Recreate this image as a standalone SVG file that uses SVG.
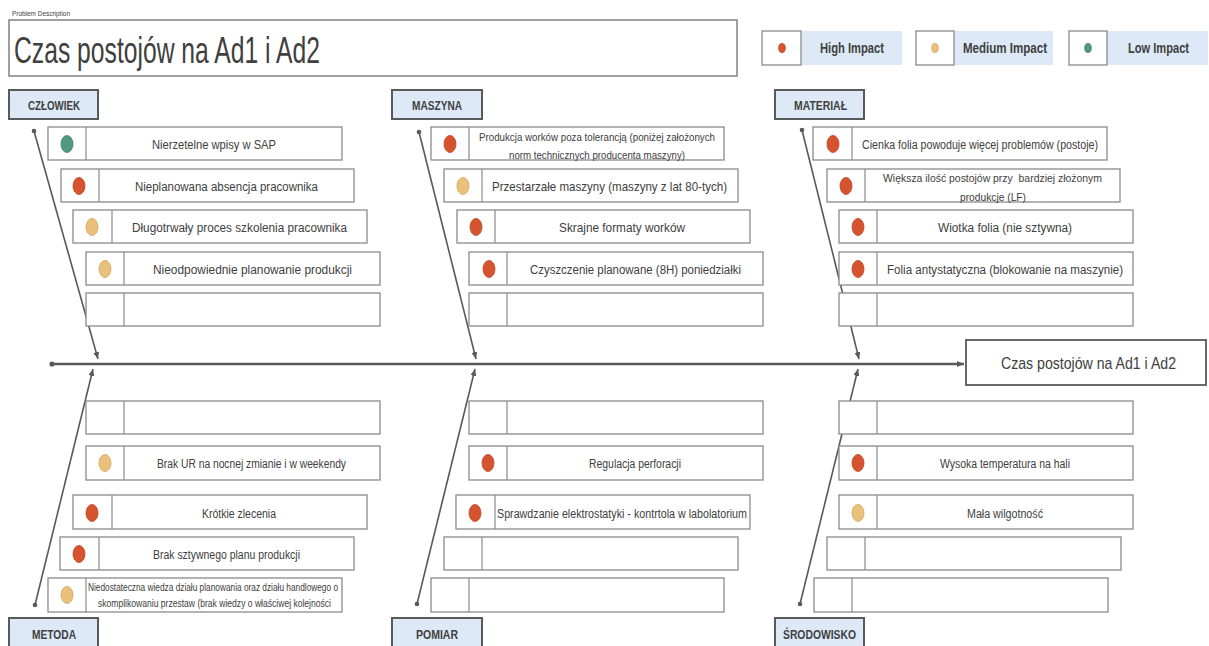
<svg xmlns="http://www.w3.org/2000/svg" width="1209" height="646" viewBox="0 0 1209 646">
<defs>
<style>
.bx{fill:#fff;stroke:#8a8a8a;stroke-width:1.3}
.dv{stroke:#8a8a8a;stroke-width:1.2}
.t{font-family:"Liberation Sans",Arial,sans-serif;font-size:12px;fill:#404040}
.ts{font-family:"Liberation Sans",Arial,sans-serif;font-size:10px;fill:#404040}
.cat{fill:#dde9f6;stroke:#5a5a5a;stroke-width:2}
.ct{font-family:"Liberation Sans",Arial,sans-serif;font-size:12.5px;font-weight:bold;fill:#404040}
.lg{font-family:"Liberation Sans",Arial,sans-serif;font-size:14px;font-weight:bold;fill:#404040}
.lb{fill:#dde9f6}
.hi{fill:#d6532f;stroke:#bd4523;stroke-width:0.8}
.md{fill:#e9c17b;stroke:#cfa45c;stroke-width:0.8}
.lo{fill:#4f9a80;stroke:#3e7e68;stroke-width:0.8}
.ln{stroke:#595959;stroke-width:1.6;fill:none}
.sp{stroke:#595959;stroke-width:2.6;fill:none}
.dot{fill:#595959}
</style>
<marker id="ah" markerUnits="userSpaceOnUse" markerWidth="8" markerHeight="6" refX="7" refY="3" orient="auto">
<path d="M0,0 L7,3 L0,6 z" fill="#595959"/>
</marker>
</defs>
<rect width="1209" height="646" fill="#fff"/>

<g id="header">
<text x="12" y="16" class="t" style="font-size:6.5px" textLength="58" lengthAdjust="spacingAndGlyphs">Problem Description</text>
<rect x="9" y="20" width="728" height="56" fill="#fff" stroke="#808080" stroke-width="1.5"/>
<text x="14" y="63" class="t" style="font-size:37px" textLength="306" lengthAdjust="spacingAndGlyphs">Czas postojów na Ad1 i Ad2</text>
</g>

<g id="legend">
<rect x="801" y="31" width="101" height="34" class="lb"/>
<rect x="762" y="31" width="39" height="34" class="bx"/>
<ellipse cx="782" cy="48" rx="3.3" ry="4.5" class="hi"/>
<text x="820" y="53" class="lg" textLength="64" lengthAdjust="spacingAndGlyphs">High Impact</text>
<rect x="954" y="31" width="99" height="34" class="lb"/>
<rect x="916" y="31" width="38" height="34" class="bx"/>
<ellipse cx="935" cy="48" rx="3.3" ry="4.5" class="md"/>
<text x="963" y="53" class="lg" textLength="84" lengthAdjust="spacingAndGlyphs">Medium Impact</text>
<rect x="1107" y="31" width="101" height="34" class="lb"/>
<rect x="1069" y="31" width="38" height="34" class="bx"/>
<ellipse cx="1088" cy="48" rx="3.3" ry="4.5" class="lo"/>
<text x="1128" y="53" class="lg" textLength="61" lengthAdjust="spacingAndGlyphs">Low Impact</text>
</g>

<g id="connectors">
<line x1="52" y1="364" x2="964" y2="364" class="sp" marker-end="url(#ah)"/>
<circle cx="52" cy="364" r="2.6" class="dot"/>
<line x1="34" y1="131" x2="98" y2="359" class="ln" marker-end="url(#ah)"/>
<circle cx="34" cy="131" r="2.3" class="dot"/>
<line x1="419" y1="132" x2="476" y2="359" class="ln" marker-end="url(#ah)"/>
<circle cx="419" cy="132" r="2.3" class="dot"/>
<line x1="802" y1="130" x2="859" y2="359" class="ln" marker-end="url(#ah)"/>
<circle cx="802" cy="130" r="2.3" class="dot"/>
<line x1="35" y1="605" x2="93" y2="369" class="ln" marker-end="url(#ah)"/>
<circle cx="35" cy="605" r="2.3" class="dot"/>
<line x1="417" y1="604" x2="475" y2="369" class="ln" marker-end="url(#ah)"/>
<circle cx="417" cy="604" r="2.3" class="dot"/>
<line x1="800" y1="604" x2="858" y2="369" class="ln" marker-end="url(#ah)"/>
<circle cx="800" cy="604" r="2.3" class="dot"/>
</g>

<g id="effect">
<rect x="966" y="340" width="240" height="45" fill="#fff" stroke="#595959" stroke-width="1.8"/>
<text x="1001" y="369" class="t" style="font-size:17px" textLength="175" lengthAdjust="spacingAndGlyphs">Czas postojów na Ad1 i Ad2</text>
</g>

<g id="cat-czlowiek"><rect x="9" y="90" width="89" height="29" class="cat"/><text x="28" y="109.5" class="ct" textLength="52" lengthAdjust="spacingAndGlyphs">CZŁOWIEK</text></g>
<g id="cat-maszyna"><rect x="392" y="90" width="90" height="29" class="cat"/><text x="412" y="109.5" class="ct" textLength="50" lengthAdjust="spacingAndGlyphs">MASZYNA</text></g>
<g id="cat-material"><rect x="775" y="90" width="89" height="29" class="cat"/><text x="794" y="109.5" class="ct" textLength="53" lengthAdjust="spacingAndGlyphs">MATERIAŁ</text></g>
<g id="cat-metoda"><rect x="9" y="618" width="89" height="32" class="cat"/><text x="32" y="638.5" class="ct" textLength="44" lengthAdjust="spacingAndGlyphs">METODA</text></g>
<g id="cat-pomiar"><rect x="392" y="618" width="90" height="32" class="cat"/><text x="416" y="638.5" class="ct" textLength="42" lengthAdjust="spacingAndGlyphs">POMIAR</text></g>
<g id="cat-srodowisko"><rect x="775" y="618" width="89" height="32" class="cat"/><text x="783" y="638.5" class="ct" textLength="73" lengthAdjust="spacingAndGlyphs">ŚRODOWISKO</text></g>

<!-- CZLOWIEK -->
<g id="c1"><rect x="48" y="127" width="294" height="33" class="bx"/><line x1="86" y1="127" x2="86" y2="160" class="dv"/><ellipse cx="67" cy="144" rx="6" ry="8.5" class="lo"/><text x="152" y="148.5" class="t" textLength="124" lengthAdjust="spacingAndGlyphs">Nierzetelne wpisy w SAP</text></g>
<g id="c2"><rect x="61" y="169" width="293" height="33" class="bx"/><line x1="99" y1="169" x2="99" y2="202" class="dv"/><ellipse cx="79" cy="186" rx="6" ry="8.5" class="hi"/><text x="135" y="190.5" class="t" textLength="183" lengthAdjust="spacingAndGlyphs">Nieplanowana absencja pracownika</text></g>
<g id="c3"><rect x="73" y="210" width="294" height="33" class="bx"/><line x1="112" y1="210" x2="112" y2="243" class="dv"/><ellipse cx="92" cy="227" rx="6" ry="8.5" class="md"/><text x="132" y="231.5" class="t" textLength="215" lengthAdjust="spacingAndGlyphs">Długotrwały proces szkolenia pracownika</text></g>
<g id="c4"><rect x="86" y="252" width="294" height="33" class="bx"/><line x1="124" y1="252" x2="124" y2="285" class="dv"/><ellipse cx="105" cy="269" rx="6" ry="8.5" class="md"/><text x="153" y="273.5" class="t" textLength="199" lengthAdjust="spacingAndGlyphs">Nieodpowiednie planowanie produkcji</text></g>
<g id="c5"><rect x="86" y="293" width="294" height="33" class="bx"/><line x1="124" y1="293" x2="124" y2="326" class="dv"/></g>

<!-- MASZYNA -->
<g id="m1"><rect x="431" y="127" width="293" height="33" class="bx"/><line x1="469" y1="127" x2="469" y2="160" class="dv"/><ellipse cx="450" cy="144" rx="6" ry="8.5" class="hi"/><text x="479" y="140.5" class="ts" textLength="236" lengthAdjust="spacingAndGlyphs">Produkcja worków poza tolerancją (poniżej założonych</text><text x="509" y="159" class="ts" textLength="176" lengthAdjust="spacingAndGlyphs">norm technicznych producenta maszyny)</text></g>
<g id="m2"><rect x="444" y="169" width="294" height="33" class="bx"/><line x1="482" y1="169" x2="482" y2="202" class="dv"/><ellipse cx="463" cy="186" rx="6" ry="8.5" class="md"/><text x="492" y="191" class="t" style="font-size:13px" textLength="235" lengthAdjust="spacingAndGlyphs">Przestarzałe maszyny (maszyny z lat 80-tych)</text></g>
<g id="m3"><rect x="457" y="210" width="293" height="33" class="bx"/><line x1="495" y1="210" x2="495" y2="243" class="dv"/><ellipse cx="476" cy="227" rx="6" ry="8.5" class="hi"/><text x="559" y="231.5" class="t" textLength="126" lengthAdjust="spacingAndGlyphs">Skrajne formaty worków</text></g>
<g id="m4"><rect x="469" y="252" width="294" height="33" class="bx"/><line x1="507" y1="252" x2="507" y2="285" class="dv"/><ellipse cx="489" cy="269" rx="6" ry="8.5" class="hi"/><text x="530" y="273.5" class="t" textLength="211" lengthAdjust="spacingAndGlyphs">Czyszczenie planowane (8H) poniedziałki</text></g>
<g id="m5"><rect x="469" y="293" width="294" height="33" class="bx"/><line x1="507" y1="293" x2="507" y2="326" class="dv"/></g>

<!-- MATERIAL -->
<g id="t1"><rect x="813" y="127" width="294" height="33" class="bx"/><line x1="852" y1="127" x2="852" y2="160" class="dv"/><ellipse cx="833" cy="144" rx="6" ry="8.5" class="hi"/><text x="862" y="148.5" class="t" textLength="236" lengthAdjust="spacingAndGlyphs">Cienka folia powoduje więcej problemów (postoje)</text></g>
<g id="t2"><rect x="827" y="169" width="293" height="33" class="bx"/><line x1="865" y1="169" x2="865" y2="202" class="dv"/><ellipse cx="846" cy="186" rx="6" ry="8.5" class="hi"/><text x="883" y="181.5" class="ts" xml:space="preserve" textLength="219" lengthAdjust="spacingAndGlyphs">Większa ilość postojów przy  bardziej złożonym</text><text x="960" y="200.5" class="ts" textLength="66" lengthAdjust="spacingAndGlyphs">produkcje (LF)</text></g>
<g id="t3"><rect x="839" y="210" width="294" height="33" class="bx"/><line x1="877" y1="210" x2="877" y2="243" class="dv"/><ellipse cx="858" cy="227" rx="6" ry="8.5" class="hi"/><text x="938" y="231.5" class="t" textLength="134" lengthAdjust="spacingAndGlyphs">Wiotka folia (nie sztywna)</text></g>
<g id="t4"><rect x="839" y="252" width="294" height="33" class="bx"/><line x1="877" y1="252" x2="877" y2="285" class="dv"/><ellipse cx="858" cy="269" rx="6" ry="8.5" class="hi"/><text x="887" y="273.5" class="t" textLength="236" lengthAdjust="spacingAndGlyphs">Folia antystatyczna (blokowanie na maszynie)</text></g>
<g id="t5"><rect x="839" y="293" width="294" height="33" class="bx"/><line x1="877" y1="293" x2="877" y2="326" class="dv"/></g>

<!-- METODA -->
<g id="e1"><rect x="86" y="401" width="294" height="33" class="bx"/><line x1="124" y1="401" x2="124" y2="434" class="dv"/></g>
<g id="e2"><rect x="86" y="446" width="294" height="34" class="bx"/><line x1="124" y1="446" x2="124" y2="480" class="dv"/><ellipse cx="105" cy="463" rx="6" ry="8.5" class="md"/><text x="157" y="467.5" class="t" textLength="189" lengthAdjust="spacingAndGlyphs">Brak UR na nocnej zmianie i w weekendy</text></g>
<g id="e3"><rect x="73" y="495" width="294" height="34" class="bx"/><line x1="112" y1="495" x2="112" y2="529" class="dv"/><ellipse cx="92" cy="513" rx="6" ry="8.5" class="hi"/><text x="202" y="517.5" class="t" textLength="74" lengthAdjust="spacingAndGlyphs">Krótkie zlecenia</text></g>
<g id="e4"><rect x="60" y="537" width="294" height="33" class="bx"/><line x1="99" y1="537" x2="99" y2="570" class="dv"/><ellipse cx="79" cy="554" rx="6" ry="8.5" class="hi"/><text x="153" y="558.5" class="t" textLength="147" lengthAdjust="spacingAndGlyphs">Brak sztywnego planu produkcji</text></g>
<g id="e5"><rect x="48" y="578" width="294" height="34" class="bx"/><line x1="86" y1="578" x2="86" y2="612" class="dv"/><ellipse cx="67" cy="595" rx="6" ry="8.5" class="md"/><text x="88" y="590.5" class="ts" textLength="250" lengthAdjust="spacingAndGlyphs">Niedostateczna wiedza działu planowania oraz działu handlowego o</text><text x="98" y="607" class="ts" textLength="233" lengthAdjust="spacingAndGlyphs">skomplikowaniu przestaw (brak wiedzy o właściwej kolejności</text></g>

<!-- POMIAR -->
<g id="p1"><rect x="469" y="401" width="294" height="33" class="bx"/><line x1="507" y1="401" x2="507" y2="434" class="dv"/></g>
<g id="p2"><rect x="469" y="446" width="294" height="34" class="bx"/><line x1="507" y1="446" x2="507" y2="480" class="dv"/><ellipse cx="488" cy="463" rx="6" ry="8.5" class="hi"/><text x="589" y="467.5" class="t" textLength="92" lengthAdjust="spacingAndGlyphs">Regulacja perforacji</text></g>
<g id="p3"><rect x="456" y="495" width="294" height="34" class="bx"/><line x1="495" y1="495" x2="495" y2="529" class="dv"/><ellipse cx="475" cy="513" rx="6" ry="8.5" class="hi"/><text x="497" y="517.5" class="t" textLength="250" lengthAdjust="spacingAndGlyphs">Sprawdzanie elektrostatyki - kontrtola w labolatorium</text></g>
<g id="p4"><rect x="444" y="537" width="294" height="33" class="bx"/><line x1="482" y1="537" x2="482" y2="570" class="dv"/></g>
<g id="p5"><rect x="431" y="578" width="293" height="34" class="bx"/><line x1="469" y1="578" x2="469" y2="612" class="dv"/></g>

<!-- SRODOWISKO -->
<g id="s1"><rect x="839" y="401" width="294" height="33" class="bx"/><line x1="877" y1="401" x2="877" y2="434" class="dv"/></g>
<g id="s2"><rect x="839" y="446" width="294" height="34" class="bx"/><line x1="877" y1="446" x2="877" y2="480" class="dv"/><ellipse cx="858" cy="463" rx="6" ry="8.5" class="hi"/><text x="940" y="467.5" class="t" textLength="130" lengthAdjust="spacingAndGlyphs">Wysoka temperatura na hali</text></g>
<g id="s3"><rect x="839" y="495" width="294" height="34" class="bx"/><line x1="877" y1="495" x2="877" y2="529" class="dv"/><ellipse cx="858" cy="513" rx="6" ry="8.5" class="md"/><text x="967" y="517.5" class="t" textLength="76" lengthAdjust="spacingAndGlyphs">Mała wilgotność</text></g>
<g id="s4"><rect x="827" y="537" width="294" height="33" class="bx"/><line x1="865" y1="537" x2="865" y2="570" class="dv"/></g>
<g id="s5"><rect x="814" y="578" width="294" height="34" class="bx"/><line x1="852" y1="578" x2="852" y2="612" class="dv"/></g>
</svg>
